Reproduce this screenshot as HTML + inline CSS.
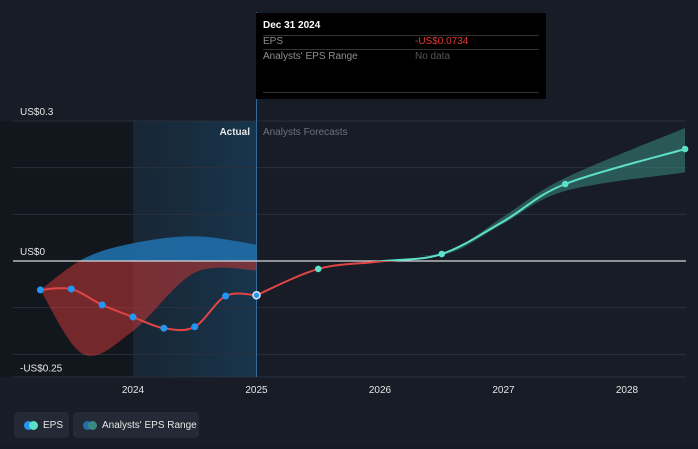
<!DOCTYPE html>
<html><head><meta charset="utf-8"><style>
html,body{margin:0;padding:0;background:#151b24;}
body{width:698px;height:444px;overflow:hidden;font-family:"Liberation Sans",sans-serif;position:relative}
svg text{font-family:"Liberation Sans",sans-serif}
</style></head><body>
<svg id="c" width="698" height="444">
<defs>
<linearGradient id="hl" x1="0" x2="1" y1="0" y2="0"><stop offset="0" stop-color="#1a3246" stop-opacity="0.45"/><stop offset="1" stop-color="#173a55" stop-opacity="0.85"/></linearGradient>
<clipPath id="above"><rect x="0" y="0" width="698" height="261"/></clipPath>
<clipPath id="below"><rect x="0" y="261" width="698" height="200"/></clipPath>
</defs>
<rect width="698" height="444" fill="#171c26"/>
<g id="g"></g>
</svg>
<script>
const tickVals=[0.3,0,-0.25];
const tickLabels=["US$0.3","US$0","-US$0.25"];
const gridVals=[0.2,0.1,-0.1,-0.2];
const yearTicks=[2024,2025,2026,2027,2028];
const actualYears=[2023.25,2023.5,2023.75,2024,2024.25,2024.5,2024.75,2025];
const actualEps=[-0.062,-0.060,-0.094,-0.120,-0.144,-0.141,-0.075,-0.0734];
const fcYears=[2025,2025.5,2026,2026.5,2027,2027.5,2028.47];
const fcEps=[-0.0734,-0.017,-0.001,0.015,0.085,0.165,0.24];
const fcDotYears=[2025.5,2026.5,2027.5,2028.47];
const fcDotEps=[-0.017,0.015,0.165,0.24];
const fcBandYears=[2026.3,2026.6,2027,2027.5,2028.47];
const fcBandHigh=[0.01,0.025,0.095,0.178,0.285];
const fcBandLow=[0.01,0.02,0.08,0.15,0.19];
const pastBandYears=[2023.25,2023.6,2024,2024.5,2025];
const pastBandHigh=[-0.062,0.005,0.038,0.053,0.035];
const pastBandLow=[-0.062,-0.2,-0.15,-0.025,-0.02];

const X=y=>133+(y-2024)*123.5;
const Y=v=>261-v*466.7;
const NS="http://www.w3.org/2000/svg";
const g=document.getElementById('g');
function mk(t,a){const e=document.createElementNS(NS,t);for(const k in a)e.setAttribute(k,a[k]);g.appendChild(e);return e;}
function curve(xs,ys,move){
  const p=xs.map((x,i)=>[X(x),Y(ys[i])]);let d=(move?"M":"L")+p[0][0]+","+p[0][1];
  for(let i=0;i<p.length-1;i++){const p0=p[i-1]||p[i],p1=p[i],p2=p[i+1],p3=p[i+2]||p2;
    d+=` C${p1[0]+(p2[0]-p0[0])/6},${p1[1]+(p2[1]-p0[1])/6} ${p2[0]-(p3[0]-p1[0])/6},${p2[1]-(p3[1]-p1[1])/6} ${p2[0]},${p2[1]}`;}
  return d;}
function band(xs,hi,lo){return curve(xs,hi,true)+curve(xs.slice().reverse(),lo.slice().reverse(),false)+"Z";}

let e=mk('rect',{x:0,y:121,width:X(2024),height:256,fill:'#12161d'});

e=mk('rect',{x:X(2024),y:121,width:X(2025)-X(2024),height:256,fill:'url(#hl)'});

gridVals.concat([0.3]).forEach(v=>{const l=mk('line',{x1:13,x2:686,y1:Y(v),y2:Y(v),stroke:'#2a313c','stroke-width':1});
});
e=mk('line',{x1:13,x2:686,y1:377,y2:377,stroke:'#2a313c'});

e=mk('line',{x1:X(2025),x2:X(2025),y1:12,y2:377,stroke:'#2d6c9c','stroke-width':1});

const pb=band(pastBandYears,pastBandHigh,pastBandLow);
e=mk('path',{d:pb,fill:'#b83535','fill-opacity':0.6,'clip-path':'url(#below)'});

e=mk('path',{d:pb,fill:'#1f6ea8','fill-opacity':0.9,'clip-path':'url(#above)'});

e=mk('path',{d:band(fcBandYears,fcBandHigh,fcBandLow),fill:'#3a8a80','fill-opacity':0.55});

e=mk('line',{x1:13,x2:686,y1:Y(0),y2:Y(0),stroke:'#d8d8d8','stroke-width':1.3});

e=mk('path',{d:curve(actualYears,actualEps,true),fill:'none',stroke:'#e04545','stroke-width':2});

const fd=curve(fcYears,fcEps,true);
e=mk('path',{d:fd,fill:'none',stroke:'#e04545','stroke-width':2,'clip-path':'url(#below)'});

e=mk('path',{d:fd,fill:'none',stroke:'#5ee0c8','stroke-width':2,'clip-path':'url(#above)'});

actualYears.forEach((yr,i)=>{const last=i===actualYears.length-1;
  const c=mk('circle',{cx:X(yr),cy:Y(actualEps[i]),r:3.5,fill:'#2196f3',stroke:last?'#dfe8f0':'none','stroke-width':1.5});
  });
fcDotYears.forEach((yr,i)=>{const c=mk('circle',{cx:X(yr),cy:Y(fcDotEps[i]),r:3.3,fill:'#5ee0c8'});
  });
tickVals.forEach((v,i)=>{const t=mk('text',{x:20,y:Y(v)-6,fill:'#e6e6e6','font-size':10});t.textContent=tickLabels[i];
  });
yearTicks.forEach(yr=>{const t=mk('text',{x:X(yr),y:393,fill:'#e6e6e6','font-size':10,'text-anchor':'middle'});t.textContent=yr;
  });
e=mk('text',{x:250,y:135,fill:'#e6e6e6','font-size':10,'font-weight':'bold','text-anchor':'end'});e.textContent='Actual';

e=mk('text',{x:263,y:135,fill:'#6c737d','font-size':10});e.textContent='Analysts Forecasts';

</script>
<div style="position:absolute;left:256px;top:13px;width:290px;height:86px;background:#000;font-size:10px;color:#8a8f96">
 <div style="position:absolute;left:7px;top:7px;color:#fff;font-weight:bold">Dec 31 2024</div>
 <div style="position:absolute;left:7px;right:7px;top:22px;border-top:1px solid #333"></div>
 <div style="position:absolute;left:7px;top:23px">EPS</div>
 <div style="position:absolute;left:159px;top:23px;color:#e53935">-US$0.0734</div>
 <div style="position:absolute;left:7px;right:7px;top:36px;border-top:1px solid #333"></div>
 <div style="position:absolute;left:7px;top:38px">Analysts' EPS Range</div>
 <div style="position:absolute;left:159px;top:38px;color:#555">No data</div>
 <div style="position:absolute;left:7px;right:7px;top:79px;border-top:1px solid #333"></div>
</div>
<div style="position:absolute;left:14px;top:412px;width:55px;height:26px;background:#232a35;border-radius:4px;font-size:10px;color:#e6e6e6">
 <span style="position:absolute;left:10px;top:9px;width:9px;height:9px;border-radius:50%;background:#2196f3"></span>
 <span style="position:absolute;left:15px;top:9px;width:9px;height:9px;border-radius:50%;background:#5ee0c8"></span>
 <span style="position:absolute;left:29px;top:8px">EPS</span>
</div>
<div style="position:absolute;left:73px;top:412px;width:126px;height:26px;background:#232a35;border-radius:4px;font-size:10px;color:#e6e6e6">
 <span style="position:absolute;left:10px;top:9px;width:9px;height:9px;border-radius:50%;background:#1f6ea8"></span>
 <span style="position:absolute;left:15px;top:9px;width:9px;height:9px;border-radius:50%;background:#3a8a80"></span>
 <span style="position:absolute;left:29px;top:8px">Analysts' EPS Range</span>
</div>
</body></html>
